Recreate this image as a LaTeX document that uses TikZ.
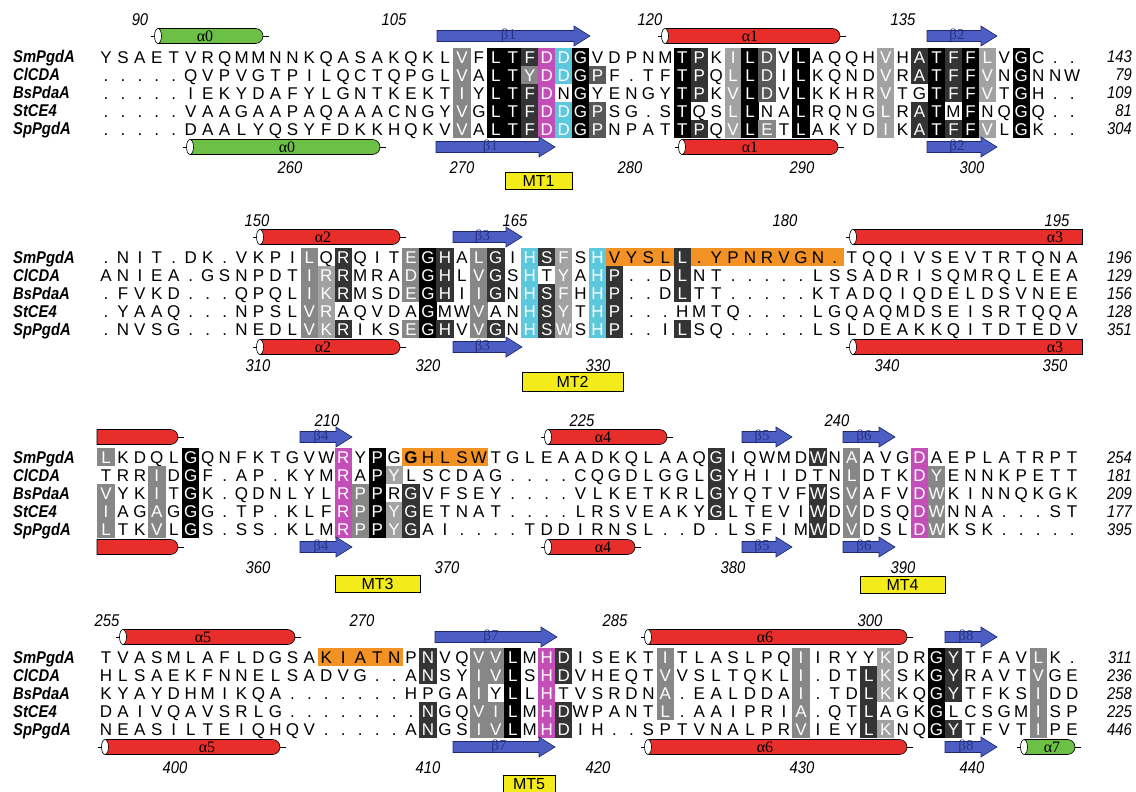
\documentclass[tikz,border=0pt]{standalone}
\usepackage{fontspec}
\setmainfont[FakeStretch=0.87]{Liberation Sans}
\newfontfamily\resfont{Liberation Sans}
\newfontfamily\grk{Liberation Serif}
\definecolor{magc}{RGB}{196,78,184}
\definecolor{cyc}{RGB}{92,200,222}
\definecolor{orc}{RGB}{243,146,36}
\definecolor{yel}{RGB}{244,236,26}
\definecolor{hred}{RGB}{232,46,42}
\definecolor{hgrn}{RGB}{108,192,70}
\definecolor{bfill}{RGB}{76,94,196}
\definecolor{bdark}{RGB}{30,40,110}
\definecolor{btxt}{RGB}{40,52,130}
\definecolor{dk}{RGB}{52,52,52}
\definecolor{md}{RGB}{88,88,88}
\definecolor{gr}{RGB}{135,135,135}
\definecolor{lg}{RGB}{162,162,162}
\tikzset{
 cell/.style={inner sep=0pt, minimum width=17.3pt, minimum height=18.4pt, text height=12.2pt, text depth=0pt, font=\resfont\fontsize{17}{18}\selectfont, anchor=center},
 shk/.style={fill=black,text=white},
 shd/.style={fill=dk,text=white},
 she/.style={fill=md,text=white},
 shg/.style={fill=gr,text=white},
 shl/.style={fill=lg,text=white},
 shm/.style={fill=magc,text=white},
 shc/.style={fill=cyc,text=white},
 sho/.style={fill=orc},
 shb/.style={fill=orc,font=\resfont\fontsize{17}{18}\selectfont\bfseries},
 lbl/.style={font=\fontsize{17}{18}\selectfont\bfseries\itshape, anchor=base west, inner sep=0pt},
 rnum/.style={font=\fontsize{17}{18}\selectfont\itshape, anchor=base east, inner sep=0pt},
 posnum/.style={font=\fontsize{17}{18}\selectfont\itshape, anchor=base, inner sep=0pt},
 mtbox/.style={draw=black, line width=0.7pt, fill=yel, inner sep=0pt, minimum height=17pt, text height=11.5pt, text depth=0pt, font=\resfont\fontsize{16}{18}\selectfont},
 hxlab/.style={font=\grk\fontsize{16}{16}\selectfont, inner sep=0pt},
 btlab/.style={font=\grk\fontsize{15}{15}\selectfont, text=btxt, inner sep=0pt},
 ssline/.style={line width=0.6pt, draw=black},
}
\newcount\alnCol
\def\alnY{0}
\newcommand\alnRow[3]{\def\alnY{#1}\alnCol=0 \alnLoop#2\relax#3\relax}
\def\alnLoop#1#2\relax#3#4\relax{%
  \if.#3\node[cell] at (106+16.95*\the\alnCol,\alnY) {#1};%
  \else\node[cell,sh#3] at (106+16.95*\the\alnCol,\alnY) {#1};\fi
  \advance\alnCol by 1
  \if\relax\detokenize{#2}\relax\else\alnLoop#2\relax#4\relax\fi}
\newcommand\alnFull[5]{%
  \node[lbl] at (13,#1+6) {#2};
  \node[rnum] at (1132,#1+6) {#5};
  \alnRow{#1}{#3}{#4}}
\newcommand\ssHelix[6]{%
  \draw[ssline] (#1-7,#3) -- (#1,#3);
  \draw[ssline,fill=#4] (#1,#3-7.5) -- (#2-7.5,#3-7.5) .. controls (#2-3.4,#3-7.5) and (#2,#3-4.1) .. (#2,#3) .. controls (#2,#3+4.1) and (#2-3.4,#3+7.5) .. (#2-7.5,#3+7.5) -- (#1,#3+7.5) -- cycle;
  \draw[ssline,fill=white] (#1,#3) ellipse [x radius=3.5, y radius=7.5];
  \draw[ssline] (#2,#3) -- (#2+6,#3);
  \node[hxlab] at (#6,#3) {#5};}
\newcommand\ssHelixR[6]{%
  \draw[ssline] (#1-7,#3) -- (#1,#3);
  \draw[ssline,fill=#4] (#1,#3-7.5) -- (#2,#3-7.5) -- (#2,#3+7.5) -- (#1,#3+7.5) -- cycle;
  \draw[ssline,fill=white] (#1,#3) ellipse [x radius=3.5, y radius=7.5];
  \node[hxlab] at (#6,#3) {#5};}
\newcommand\ssHelixL[4]{%
  \draw[ssline,fill=#4] (#1,#3-7.5) -- (#2-7.5,#3-7.5) .. controls (#2-3.4,#3-7.5) and (#2,#3-4.1) .. (#2,#3) .. controls (#2,#3+4.1) and (#2-3.4,#3+7.5) .. (#2-7.5,#3+7.5) -- (#1,#3+7.5) -- cycle;
  \draw[ssline] (#2,#3) -- (#2+6,#3);}
\newcommand\ssArrow[4]{%
  \draw[line width=0.6pt,draw=bdark,fill=bfill] (#1,#3-5.5) -- (#2-16,#3-5.5) -- (#2-16,#3-10) -- (#2,#3) -- (#2-16,#3+10) -- (#2-16,#3+5.5) -- (#1,#3+5.5) -- cycle;
  \node[btlab] at ({(#1+#2)/2-5},#3) {#4};}
\begin{document}
\begin{tikzpicture}[x=1pt,y=-1pt]
\fill[white] (0,0) rectangle (1136,792);
\useasboundingbox (0,0) rectangle (1136,792);
% ---------------- block 1
\alnFull{57}{SmPgdA}{YSAETVRQMMNNKQASAKQKLVFLTFDDGVDPNMTPKILDVLAQQHVHATFFLVGC..}{.......... .......... . g.kkdmck. .... kd.lke.k .... l.dkdkl.k ...}{143}
\alnFull{75}{ClCDA}{.....QVPVGTPILQCTQPGLVALTYDDGPF.TFTPQLLDILKQNDVRATFFVNGNNW}{.......... .......... . g.kkgmcke .... kd.lke.k .... l.dkdkl.k ...}{79}
\alnFull{93}{BsPdaA}{.....IEKYDAFYLGNTKEKTIYLTFDNGYENGYTPKVLDVLKKHRVTGTFFVTGH..}{.......... .......... . g.kkdm.k. .... kd.lke.k .... l..kdkl.k ...}{109}
\alnFull{111}{StCE4}{.....VAAGAAPAQAAACNGYVGLTFDDGPSG.STQSLLNALRQNGLRATMFNQGQ..}{.......... .......... . g.kkdmcke .... k..lk..k .... l.dk.k..k ...}{81}
\alnFull{129}{SpPgdA}{.....DAALYQSYFDKKHQKVVALTFDDGPNPATTPQVLETLAKYDIKATFFVLGK..}{.......... .......... . g.kkdmcke .... kd.lkg.k .... l.dkdkl.k ...}{304}
\ssHelix{158}{263}{36}{hgrn}{α0}{205}
\ssArrow{437}{590}{36}{β1}
\ssHelix{665}{840}{36}{hred}{α1}{750}
\ssArrow{927}{997}{36}{β2}
\ssHelix{190}{380}{147}{hgrn}{α0}{287}
\ssArrow{436}{555}{147}{β1}
\ssHelix{682}{838}{147}{hred}{α1}{750}
\ssArrow{927}{997}{147}{β2}
\node[posnum] at (140,26) {90};
\node[posnum] at (394,26) {105};
\node[posnum] at (650,26) {120};
\node[posnum] at (903,26) {135};
\node[posnum] at (290,173) {260};
\node[posnum] at (462,173) {270};
\node[posnum] at (630,173) {280};
\node[posnum] at (802,173) {290};
\node[posnum] at (972,173) {300};
\node[mtbox, minimum width=67pt] (mt1) at (538.5,181) {MT1};
% ---------------- block 2
\alnFull{257}{SmPgdA}{.NIT.DK.VKPILQRQITEGHALGIHSFSHVYSLL.YPNRVGN.TQQIVSEVTRTQNA}{.......... .. g.d ... gkd.gd . cdl.co oood ooooooooo .......... ....}{196}
\alnFull{275}{ClCDA}{ANIEA.GSNPDTIRRMRADGHLVGSHTYAHP..DLNT.....LSSADRISQMRQLEEA}{.......... .. gld ... gkd.gd . c.l.cd ...d ......... .......... ....}{129}
\alnFull{293}{BsPdaA}{.FVKD...QPQLIKRMSDEGHIIGNHSFHHP..DLTT.....KTADQIQDELDSVNEE}{.......... .. gld ... gkd.gd . cdl.cd ...d ......... .......... ....}{156}
\alnFull{311}{StCE4}{.YAAQ...NPSLVRAQVDAGMWVANHSYTHP...HMTQ....LGQAQMDSEISRTQQA}{.......... .. gl. ... .k..g. . cdl.cd .... ......... .......... ....}{128}
\alnFull{329}{SpPgdA}{.NVSG...NEDLVKRIKSEGHVVGNHSWSHP..ILSQ.....LSLDEAKKQITDTEDV}{.......... .. gld ... gkd.gd . cdl.cd ...d ......... .......... ....}{351}
\ssHelix{260}{400}{237}{hred}{α2}{323}
\ssArrow{453}{522}{237}{β3}
\ssHelixR{853}{1082}{237}{hred}{α3}{1055}
\ssHelix{260}{400}{347}{hred}{α2}{323}
\ssArrow{453}{522}{347}{β3}
\ssHelixR{853}{1082}{347}{hred}{α3}{1055}
\node[posnum] at (257,226) {150};
\node[posnum] at (515,226) {165};
\node[posnum] at (785,226) {180};
\node[posnum] at (1057,226) {195};
\node[posnum] at (258,371) {310};
\node[posnum] at (428,371) {320};
\node[posnum] at (598,371) {330};
\node[posnum] at (887,371) {340};
\node[posnum] at (1055,371) {350};
\node[mtbox, minimum width=101pt, minimum height=19pt] (mt2) at (572.5,382) {MT2};
% ---------------- block 3
\alnFull{457}{SmPgdA}{LKDQLGQNFKTGVWRYPGGHLSWTGLEAADKQLAAQGIQWMDWNAAVGDAEPLATRPT}{g....k ........ m.k.boooo .......... ... d ..... d.g...m. ........}{254}
\alnFull{475}{ClCDA}{TRRIDGF.AP.KYMRAPYLSCDAG....CQGDLGGLGYHIIDTNLDTKDYENNKPETT}{...g.k ........ m.kl..... .......... ... d ..... ..g...mg ........}{181}
\alnFull{493}{BsPdaA}{VYKITGK.QDNLYLRPPRGVFSEY....VLKETKRLGYQTVFWSVAFVDWKINNQKGK}{g..g.k ........ mgk.d.... .......... ... d ..... d.g...mg ........}{209}
\alnFull{511}{StCE4}{IAGAGGG.TP.KLFRPPYGETNAT....LRSVEAKYGLTEVIWDVDSQDWNNA...ST}{g..g.k ........ mgkld.... .......... ... d ..... d.g...mg ........}{177}
\alnFull{529}{SpPgdA}{LTKVLGS.SS.KLMRPPYGAI....TDDIRNSL..D.LSFIMWDVDSLDWKSK.....}{g..g.k ........ mgkld.... .......... ... . ..... d.g...mg ........}{395}
\ssHelixL{97}{178}{437}{hred}
\ssArrow{300}{352}{437}{β4}
\ssHelix{548}{667}{437}{hred}{α4}{603}
\ssArrow{742}{792}{437}{β5}
\ssArrow{843}{895}{437}{β6}
\ssHelixL{97}{178}{547}{hred}
\ssArrow{300}{352}{547}{β4}
\ssHelix{548}{635}{547}{hred}{α4}{603}
\ssArrow{742}{792}{547}{β5}
\ssArrow{843}{895}{547}{β6}
\node[posnum] at (327,426) {210};
\node[posnum] at (582,426) {225};
\node[posnum] at (837,426) {240};
\node[posnum] at (258,573) {360};
\node[posnum] at (447,573) {370};
\node[posnum] at (733,573) {380};
\node[posnum] at (903,573) {390};
\node[mtbox, minimum width=85pt] (mt3) at (377.5,584) {MT3};
\node[mtbox, minimum width=85pt] (mt4) at (902.5,585) {MT4};
% ---------------- block 4
\alnFull{657}{SmPgdA}{TVASMLAFLDGSAKIATNPNVQVVLMHDISEKTITLASLPQIIRYYKDRGYTFAVLK.}{.......... ... ooooo.d..ggk.md ..... g ....... g....l..kd .... g ..}{311}
\alnFull{675}{ClCDA}{HLSAEKFNNELSADVG..ANSYIVLSHDVHEQTVVSLTQKLI.DTLKSKGYRAVTVGE}{.......... ... ......d..ggk.md ..... g ....... g...dl..kd .... g ..}{236}
\alnFull{693}{BsPdaA}{KYAYDHMIKQA.......HPGAIYLLHTVSRDNA.EALDDAI.TDLKKQGYTFKSIDD}{.......... ... .........g.k.m. ..... g ....... g...dl..kd .... g ..}{258}
\alnFull{711}{StCE4}{DAIVQAVSRLG........NGQVILMHDWPANTL.AAIPRIA.QTLAGKGLCSGMISP}{.......... ... ......d..ggk.md ..... g ....... g...d...k. .... g ..}{225}
\alnFull{729}{SpPgdA}{NEASILTEIQHQV.....ANGSIVLMHDIH..SPTVNALPRVIEYLKNQGYTFVTIPE}{.......... ... ......d..ggk.md ..... . ....... g...dl..kd .... g ..}{446}
\ssHelix{123}{295}{637}{hred}{α5}{203}
\ssArrow{435}{557}{637}{β7}
\ssHelix{648}{907}{637}{hred}{α6}{765}
\ssArrow{945}{997}{637}{β8}
\ssHelix{105}{280}{747}{hred}{α5}{207}
\ssArrow{453}{555}{747}{β7}
\ssHelix{648}{907}{747}{hred}{α6}{765}
\ssArrow{945}{997}{747}{β8}
\ssHelix{1024}{1075}{747}{hgrn}{α7}{1052}
\node[posnum] at (107,626) {255};
\node[posnum] at (362,626) {270};
\node[posnum] at (615,626) {285};
\node[posnum] at (870,626) {300};
\node[posnum] at (175,773) {400};
\node[posnum] at (428,773) {410};
\node[posnum] at (598,773) {420};
\node[posnum] at (802,773) {430};
\node[posnum] at (972,773) {440};
\node[mtbox, minimum width=52pt, minimum height=18pt] (mt5) at (529,784) {MT5};
\end{tikzpicture}
\end{document}
